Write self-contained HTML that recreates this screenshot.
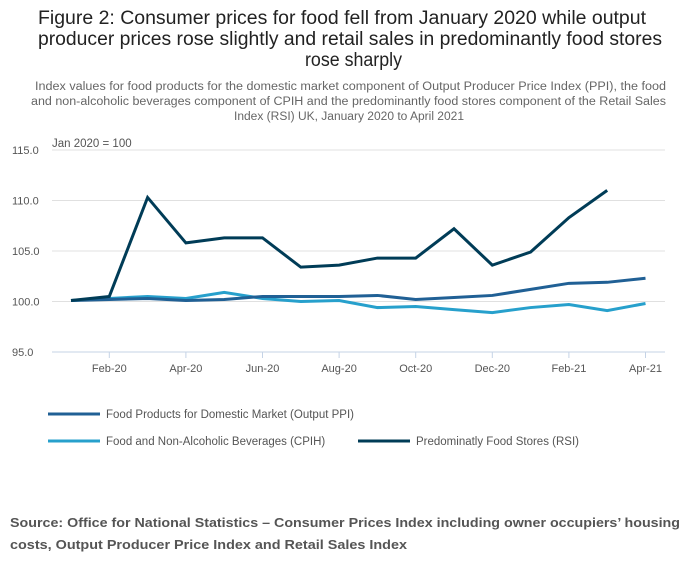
<!DOCTYPE html>
<html><head><meta charset="utf-8"><style>
body{margin:0;background:#fff;font-family:"Liberation Sans",sans-serif}
svg{display:block}
</style></head><body>
<svg id="chart" width="700" height="574" xmlns="http://www.w3.org/2000/svg" font-family="Liberation Sans, sans-serif">
<g fill="#222" font-size="19">
<text x="38" y="24" textLength="608" lengthAdjust="spacingAndGlyphs">Figure 2: Consumer prices for food fell from January 2020 while output</text>
<text x="38" y="45" textLength="624" lengthAdjust="spacingAndGlyphs">producer prices rose slightly and retail sales in predominantly food stores</text>
<text x="305" y="66" textLength="97" lengthAdjust="spacingAndGlyphs">rose sharply</text>
</g>
<g fill="#666" font-size="11.5">
<text x="35" y="90" textLength="631" lengthAdjust="spacingAndGlyphs">Index values for food products for the domestic market component of Output Producer Price Index (PPI), the food</text>
<text x="31" y="105" textLength="635" lengthAdjust="spacingAndGlyphs">and non-alcoholic beverages component of CPIH and the predominantly food stores component of the Retail Sales</text>
<text x="234" y="120" textLength="230" lengthAdjust="spacingAndGlyphs">Index (RSI) UK, January 2020 to April 2021</text>
</g>
<text x="52" y="147" font-size="11.5" fill="#555">Jan 2020 = 100</text>
<g id="grid"></g><g id="axes"></g><g id="series"></g>
<g font-size="11.5" fill="#555">
<g><line x1="48" y1="414" x2="100" y2="414" stroke="#206095" stroke-width="3"/><text x="106" y="418">Food Products for Domestic Market (Output PPI)</text></g>
<g><line x1="48" y1="441" x2="100" y2="441" stroke="#27a0cc" stroke-width="3"/><text x="106" y="445">Food and Non-Alcoholic Beverages (CPIH)</text></g>
<g><line x1="358" y1="441" x2="410" y2="441" stroke="#003c57" stroke-width="3"/><text x="416" y="445">Predominatly Food Stores (RSI)</text></g>
</g>
<g font-size="13" font-weight="bold" fill="#555">
<text x="10" y="527" textLength="670" lengthAdjust="spacingAndGlyphs">Source: Office for National Statistics – Consumer Prices Index including owner occupiers’ housing</text>
<text x="10" y="549" textLength="397" lengthAdjust="spacingAndGlyphs">costs, Output Producer Price Index and Retail Sales Index</text>
</g>
</svg>
<script>
const months=["Jan-20","Feb-20","Mar-20","Apr-20","May-20","Jun-20","Jul-20","Aug-20","Sep-20","Oct-20","Nov-20","Dec-20","Jan-21","Feb-21","Mar-21","Apr-21"];
const ppi=[100.1,100.2,100.3,100.1,100.2,100.5,100.5,100.5,100.6,100.2,100.4,100.6,101.2,101.8,101.9,102.3];
const cpih=[100.1,100.3,100.5,100.3,100.9,100.3,100.0,100.1,99.4,99.5,99.2,98.9,99.4,99.7,99.1,99.8];
const rsi=[100.1,100.5,110.3,105.8,106.3,106.3,103.4,103.6,104.3,104.3,107.2,103.6,104.9,108.3,111.0];
const yTicks=[95,100,105,110,115];
const NS="http://www.w3.org/2000/svg";
const X=i=>71+i*38.3;
const Y=v=>352-(v-95)*(202/20);
function mk(tag,attrs,parent){const e=document.createElementNS(NS,tag);for(const k in attrs)e.setAttribute(k,attrs[k]);parent.appendChild(e);return e;}
const grid=document.getElementById('grid'),axes=document.getElementById('axes'),ser=document.getElementById('series');
yTicks.forEach(v=>{
 const l=mk('line',{x1:52,x2:665,y1:Y(v),y2:Y(v),stroke:v===95?'#c5d3e6':'#e0e0e0','stroke-width':1},grid);
 
 
 const t=mk('text',{x:12,y:Y(v)+4,'font-size':11,fill:'#555'},axes);
 t.textContent=v.toFixed(1);
 
 
});
months.forEach((m,i)=>{
 if(i%2===1){
  const tk=mk('line',{x1:X(i),x2:X(i),y1:352,y2:358,stroke:'#c5d3e6'},axes);
  
  
  const t=mk('text',{x:X(i),y:372,'font-size':11,fill:'#555','text-anchor':'middle'},axes);
  t.textContent=m;
  
  
 }
});
function line(data,color,name){
 const p=mk('polyline',{points:data.map((v,i)=>X(i)+','+Y(v)).join(' '),fill:'none',stroke:color,'stroke-width':3,'stroke-linejoin':'miter'},ser);
 
 
}
line(cpih,'#27a0cc','cpih-line');
line(ppi,'#206095','ppi-line');
line(rsi,'#003c57','rsi-line');
</script>
</body></html>
